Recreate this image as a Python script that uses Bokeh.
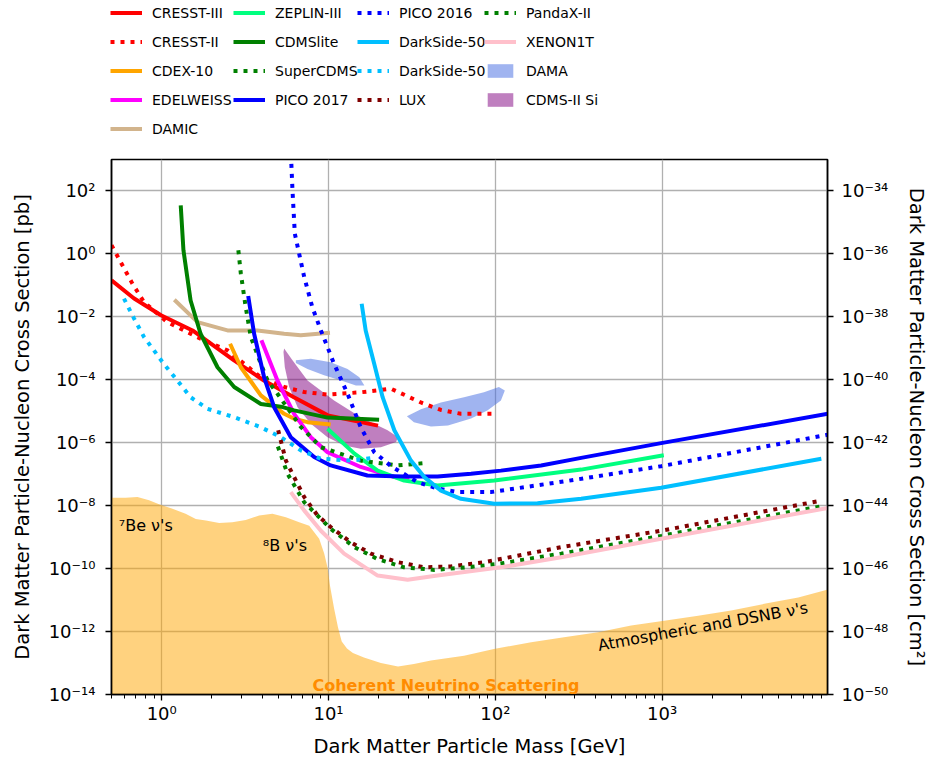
from bokeh.plotting import figure
from bokeh.layouts import column
from bokeh.models import (Range1d, LogScale, LogAxis, FixedTicker,
                          CustomJSTickFormatter, Legend, LegendItem, Label)
from bokeh.embed import file_html
from bokeh.resources import INLINE

# ---------------- data ----------------
# masses in GeV, cross sections in pb
cresst3_m = [0.50, 0.68, 0.99, 1.53, 2.70, 4.1, 6.2, 9.9, 19.8]
cresst3_s = [0.145, 0.039, 0.0112, 3.7e-3, 4.2e-4, 9.5e-5, 2.8e-5, 7.4e-6, 3.5e-6]

cresst2_m = [0.50, 0.667, 0.783, 1.08, 1.79, 2.48, 3.93, 5.42, 7.14, 9.86, 15.6, 23.7, 35.8, 47.2, 62.2, 98]
cresst2_s = [1.9, 0.114, 0.0295, 6.8e-3, 1.8e-3, 8.6e-4, 1.2e-4, 5.9e-5, 4.1e-5, 3.4e-5, 4.0e-5, 5.2e-5, 1.9e-5, 1.1e-5, 8.3e-6, 8.3e-6]

cdex_m = [2.57, 2.98, 3.93, 5.42, 6.22, 7.48, 10.3]
cdex_s = [1.4e-3, 2.5e-4, 3.2e-5, 8.3e-6, 5.8e-6, 4.5e-6, 3.8e-6]

edelweiss_m = [3.96, 4.94, 6.22, 7.83, 9.86, 15.6, 24.8, 30.5]
edelweiss_s = [1.8e-3, 9.5e-5, 8.3e-6, 1.5e-6, 5.0e-7, 1.7e-7, 8.1e-8, 7.2e-8]

damic_m = [1.19, 1.64, 2.48, 3.75, 5.42, 6.82, 10.2]
damic_s = [0.035, 6.8e-3, 3.7e-3, 3.7e-3, 2.9e-3, 2.6e-3, 3.1e-3]

zeplin_m = [9.86, 14.3, 19.7, 28.4, 45, 98.6, 327, 1023]
zeplin_s = [2.8e-6, 4.5e-7, 1.3e-7, 6.3e-8, 4.4e-8, 6.3e-8, 1.4e-7, 4.0e-7]

cdmslite_m = [1.30, 1.35, 1.49, 1.71, 2.16, 2.72, 3.93, 5.18, 6.22, 9.86, 20.1]
cdmslite_s = [35, 1.3, 0.033, 2.9e-3, 2.5e-4, 5.9e-5, 1.7e-5, 1.4e-5, 1.07e-5, 6.3e-6, 5.4e-6]

supercdms_m = [2.88, 2.98, 3.19, 3.42, 3.93, 4.31, 4.94, 6.82, 9.0, 10.3, 15.6, 26, 39.3]
supercdms_s = [1.3, 0.24, 0.020, 2.3e-3, 3.2e-4, 9.5e-5, 3.6e-5, 3.2e-6, 7.2e-7, 5.7e-7, 2.7e-7, 1.9e-7, 2.3e-7]

pico17_m = [3.30, 3.58, 4.11, 4.72, 5.94, 8.2, 10.3, 17.1, 28.3, 45, 71.5, 108, 188, 327, 986, 9860]
pico17_s = [0.046, 2.9e-3, 1.2e-4, 1.35e-5, 1.5e-6, 3.5e-7, 1.9e-7, 9.1e-8, 8.5e-8, 8.5e-8, 1.03e-7, 1.3e-7, 1.9e-7, 3.3e-7, 9.7e-7, 8.3e-6]

pico16_m = [5.95, 6.08, 6.28, 6.67, 7.14, 8.0, 9.0, 10.8, 13.0, 15.6, 18.8, 23.7, 34.2, 45, 59.4, 94, 298, 986, 9860]
pico16_s = [1500, 105, 4.4, 1.0, 0.19, 0.020, 3.7e-3, 3.2e-4, 3.6e-5, 3.1e-6, 5.0e-7, 1.8e-7, 5.6e-8, 3.5e-8, 2.7e-8, 2.7e-8, 6.6e-8, 1.8e-7, 1.8e-6]

darkside_m = [15.8, 16.7, 18.8, 21.1, 24.8, 31.2, 37.5, 47.2, 62.2, 98.6, 179, 327, 986, 9000]
darkside_s = [0.026, 3.7e-3, 3.2e-4, 2.8e-5, 2.5e-6, 2.7e-7, 8.1e-8, 3.0e-8, 1.65e-8, 1.15e-8, 1.2e-8, 1.65e-8, 3.7e-8, 3.1e-7]

darkside_lm_m = [0.594, 0.683, 0.783, 1.03, 1.24, 1.49, 1.88, 2.72, 3.93, 5.18, 6.82, 9.0, 13.6, 18.7]
darkside_lm_s = [0.038, 8.8e-3, 2.3e-3, 3.2e-4, 9.5e-5, 2.8e-5, 1.2e-5, 6.5e-6, 3.1e-6, 1.5e-6, 5.7e-7, 3.1e-7, 2.7e-7, 3.3e-7]

lux_m = [4.99, 5.55, 6.22, 7.14, 8.59, 10.3, 13.6, 17.9, 26, 37.5, 54.2, 86, 248, 986, 9000]
lux_s = [2.5e-6, 2.7e-7, 8.1e-8, 1.9e-8, 4.9e-9, 2.1e-9, 6.9e-10, 3.0e-10, 1.6e-10, 1.1e-10, 1.17e-10, 1.6e-10, 4.8e-10, 1.6e-9, 1.45e-8]

pandax_m = [4.97, 5.68, 7.14, 10.3, 14.3, 19.7, 28.4, 43, 68, 103, 248, 986, 9420]
pandax_s = [7.6e-7, 1.03e-7, 1.3e-8, 1.85e-9, 4.8e-10, 2.0e-10, 1.1e-10, 9.1e-11, 1.1e-10, 1.4e-10, 3.0e-10, 1.1e-9, 1.0e-8]

xenon_m = [5.94, 7.14, 9.0, 12.4, 19.7, 29.8, 45, 108, 248, 986, 9860]
xenon_s = [2.7e-8, 7.1e-9, 1.6e-9, 3.0e-10, 6.0e-11, 4.4e-11, 6.0e-11, 1.1e-10, 2.3e-10, 8.9e-10, 8.5e-9]

# DAMA allowed regions (two islands, outlines)
dama_low_m = [6.37, 7.83, 10.3, 13.0, 15.3, 16.4, 14.6, 11.9, 9.4, 7.48, 6.37]
dama_low_s = [4.2e-4, 4.7e-4, 3.6e-4, 2.2e-4, 1.2e-4, 6.6e-5, 6.6e-5, 9.5e-5, 1.4e-4, 2.2e-4, 3.4e-4]
dama_high_m = [29.5, 35.8, 47.2, 64.9, 85.5, 105, 114, 108, 90, 71.5, 52, 41.1, 32.5]
dama_high_s = [6.9e-6, 1.15e-5, 1.9e-5, 2.8e-5, 4.0e-5, 5.9e-5, 4.6e-5, 2.2e-5, 1.07e-5, 5.9e-6, 3.5e-6, 3.3e-6, 4.5e-6]

# CDMS-II Si allowed region (outline)
cdmssi_m = [5.42, 6.08, 7.48, 10.8, 15.6, 22.6, 26.1, 25.4, 20.6, 15.6, 12.4, 9.86, 7.83, 6.52, 5.81, 5.47, 5.37]
cdmssi_s = [9.8e-4, 4.2e-4, 9.5e-5, 2.2e-5, 6.5e-6, 2.5e-6, 1.5e-6, 1.05e-6, 7.2e-7, 6.4e-7, 8.2e-7, 1.5e-6, 4.0e-6, 1.35e-5, 5.9e-5, 2.5e-4, 7.6e-4]

# neutrino floor (upper edge)
floor_m = [0.50, 0.608, 0.715, 0.84, 0.964, 1.16, 1.39, 1.60, 1.84, 2.21, 2.65, 3.19, 3.84, 4.61,
           5.55, 6.67, 7.66, 8.79, 9.42, 9.86, 10.2, 10.8, 11.4, 12.0, 12.9, 14.0, 16.3, 20.6,
           26.1, 32.5, 41.1, 64.9, 98, 164, 258, 413, 652, 1028, 1644, 2594, 4093, 6546, 9900]
floor_s = [1.8e-8, 1.8e-8, 1.9e-8, 1.5e-8, 1.1e-8, 8.0e-9, 5.5e-9, 3.8e-9, 3.4e-9, 2.8e-9, 3.0e-9, 3.5e-9, 4.9e-9, 5.5e-9,
           4.3e-9, 3.0e-9, 2.3e-9, 8.9e-10, 3.0e-10, 1.1e-10, 2.9e-11, 5.4e-12, 1.35e-12, 4.8e-13, 2.9e-13, 2.1e-13, 1.5e-13, 1.0e-13,
           7.7e-14, 9.3e-14, 1.2e-13, 1.7e-13, 2.8e-13, 4.6e-13, 6.6e-13, 9.5e-13, 1.55e-12, 2.2e-12, 3.2e-12, 4.7e-12, 7.6e-12, 1.2e-11, 2.2e-11]

# axes
X_RANGE = (0.5, 9800.0)
Y_RANGE = (1e-14, 1e3)
PB_TO_CM2 = 1e-36
x_tick_exponents = [0, 1, 2, 3]
y_tick_exponents = [-14, -12, -10, -8, -6, -4, -2, 0, 2]
y2_tick_exponents = [-50, -48, -46, -44, -42, -40, -38, -36, -34]

# annotations: (text, mass, sigma)
be7_label = ("⁷Be ν's", 0.553, 2.3e-9)
b8_label = ("⁸B ν's", 4.04, 5.4e-10)
coherent_label = ("Coherent Neutrino Scattering", 50.6, 2.0e-14)
atmos_label = ("Atmospheric and DSNB ν's", 413, 3.6e-13)

FONT = "DejaVu Sans"
LW = 4
DOT = "4 6"

# ---------------- main figure ----------------
p = figure(frame_width=716, frame_height=535,
           x_axis_type="log", y_axis_type="log",
           x_range=Range1d(*X_RANGE), y_range=Range1d(*Y_RANGE),
           output_backend="svg", toolbar_location=None,
           min_border_left=111, min_border_right=103,
           min_border_top=19, min_border_bottom=66)
p.background_fill_color = "white"
p.border_fill_color = "white"
p.outline_line_color = "black"
p.outline_line_width = 1.5
p.outline_line_alpha = 1.0

SUP = """
const sup = {"-": "\u207b", "0": "\u2070", "1": "\u00b9", "2": "\u00b2", "3": "\u00b3",
             "4": "\u2074", "5": "\u2075", "6": "\u2076", "7": "\u2077", "8": "\u2078", "9": "\u2079"};
const e = Math.round(Math.log10(tick));
return "10" + String(e).split("").map((c) => sup[c]).join("");
"""

x_minor = [d * 10.0 ** k for k in range(-1, 4) for d in range(2, 10)
           if X_RANGE[0] <= d * 10.0 ** k <= X_RANGE[1]]
x_ticker = FixedTicker(ticks=[10.0 ** e for e in x_tick_exponents], minor_ticks=x_minor)
y_ticker = FixedTicker(ticks=[10.0 ** e for e in y_tick_exponents], minor_ticks=[])
y2_ticker = FixedTicker(ticks=[10.0 ** e for e in y2_tick_exponents], minor_ticks=[])

p.xaxis[0].ticker = x_ticker
p.yaxis[0].ticker = y_ticker
p.xgrid[0].ticker = x_ticker
p.ygrid[0].ticker = y_ticker
p.xaxis[0].formatter = CustomJSTickFormatter(code=SUP)
p.yaxis[0].formatter = CustomJSTickFormatter(code=SUP)
p.xaxis[0].axis_label = "Dark Matter Particle Mass [GeV]"
p.yaxis[0].axis_label = "Dark Matter Particle-Nucleon Cross Section [pb]"

p.extra_y_ranges = {"cm2": Range1d(Y_RANGE[0] * PB_TO_CM2, Y_RANGE[1] * PB_TO_CM2)}
p.extra_y_scales = {"cm2": LogScale()}
right_axis = LogAxis(y_range_name="cm2", ticker=y2_ticker,
                     formatter=CustomJSTickFormatter(code=SUP),
                     axis_label="Dark Matter Particle-Nucleon Cross Section [cm²]")
p.add_layout(right_axis, "right")

for ax in [p.xaxis[0], p.yaxis[0], right_axis]:
    ax.major_label_text_font = FONT
    ax.major_label_text_font_size = "18px"
    ax.major_label_text_color = "black"
    ax.axis_label_text_font = FONT
    ax.axis_label_text_font_size = "19.5px"
    ax.axis_label_text_font_style = "normal"
    ax.axis_label_text_color = "black"
    ax.axis_line_width = 1.5
    ax.axis_line_color = "black"
    ax.major_tick_in = 0
    ax.major_tick_out = 6
    ax.minor_tick_in = 0
    ax.minor_tick_out = 4
    ax.major_tick_line_width = 1.3
    ax.minor_tick_line_width = 1.0

p.xaxis[0].major_label_standoff = 2
p.xaxis[0].axis_label_standoff = 8
p.yaxis[0].major_label_standoff = 10
p.yaxis[0].axis_label_standoff = 12
right_axis.major_label_standoff = 8
right_axis.axis_label_standoff = 14

p.grid.grid_line_color = "#b0b0b0"
p.grid.grid_line_width = 1.3

# neutrino floor
p.varea(x=floor_m, y1=Y_RANGE[0], y2=floor_s, fill_color="orange", fill_alpha=0.5)

# allowed regions
DAMA_STYLE = dict(fill_color="royalblue", fill_alpha=0.5, line_color=None)
CDMSSI_STYLE = dict(fill_color="purple", fill_alpha=0.5, line_color=None)
p.patches(xs=[dama_low_m, dama_high_m], ys=[dama_low_s, dama_high_s], **DAMA_STYLE)
p.patch(cdmssi_m, cdmssi_s, **CDMSSI_STYLE)

# curves: (label, mass, sigma, colour, dash)
curves = [
    ("CRESST-III", cresst3_m, cresst3_s, "red", "solid"),
    ("CRESST-II", cresst2_m, cresst2_s, "red", DOT),
    ("CDEX-10", cdex_m, cdex_s, "orange", "solid"),
    ("EDELWEISS", edelweiss_m, edelweiss_s, "magenta", "solid"),
    ("DAMIC", damic_m, damic_s, "tan", "solid"),
    ("ZEPLIN-III", zeplin_m, zeplin_s, "springgreen", "solid"),
    ("CDMSlite", cdmslite_m, cdmslite_s, "green", "solid"),
    ("SuperCDMS", supercdms_m, supercdms_s, "green", DOT),
    ("PICO 2017", pico17_m, pico17_s, "blue", "solid"),
    ("PICO 2016", pico16_m, pico16_s, "blue", DOT),
    ("DarkSide-50", darkside_m, darkside_s, "deepskyblue", "solid"),
    ("DarkSide-50", darkside_lm_m, darkside_lm_s, "deepskyblue", DOT),
    ("LUX", lux_m, lux_s, "maroon", DOT),
    ("PandaX-II", pandax_m, pandax_s, "green", DOT),
    ("XENON1T", xenon_m, xenon_s, "pink", "solid"),
]
for lab, xs, ys, col, dash in curves:
    p.line(xs, ys, line_color=col, line_width=LW, line_dash=dash, line_cap="butt")

# annotations
for (txt, xm, ys), kw in [
        (be7_label, dict()),
        (b8_label, dict()),
        (coherent_label, dict(text_align="center", text_font_style="bold", text_color="darkorange")),
        (atmos_label, dict(angle=0.18)),
]:
    opts = dict(text_font=FONT, text_font_size="16px", text_baseline="alphabetic", text_color="black")
    opts.update(kw)
    p.add_layout(Label(x=xm, y=ys, text=txt, **opts))

# ---------------- legend strip above the plot ----------------
# The strip's ranges lie entirely below zero, so the (positive) series drawn
# into it stay out of view; they only carry each series' style into the legend.
LEG_H = 140
lf = figure(frame_width=930, frame_height=LEG_H, x_range=Range1d(-2, -1), y_range=Range1d(-2, -1),
            output_backend="svg", toolbar_location=None,
            x_axis_location=None, y_axis_location=None,
            min_border=0, outline_line_color=None)
lf.grid.visible = False

swatch = {}
for lab, xs, ys, col, dash in curves:
    swatch.setdefault(lab, []).append(
        lf.line(xs, ys, line_color=col, line_width=LW, line_dash=dash, line_cap="butt"))
swatch["DAMA"] = [lf.patches(xs=[dama_low_m, dama_high_m], ys=[dama_low_s, dama_high_s], **DAMA_STYLE)]
swatch["CDMS-II Si"] = [lf.patch(cdmssi_m, cdmssi_s, **CDMSSI_STYLE)]

legend_columns = [
    ["CRESST-III", "CRESST-II", "CDEX-10", "EDELWEISS", "DAMIC"],
    ["ZEPLIN-III", "CDMSlite", "SuperCDMS", "PICO 2017"],
    ["PICO 2016", ("DarkSide-50", 0), ("DarkSide-50", 1), "LUX"],
    ["PandaX-II", "XENON1T", "DAMA", "CDMS-II Si"],
]
col_x = [110, 233, 357, 484]
ROW_H = 17
ROW_GAP = 12
TOP = 4
for cx, names in zip(col_x, legend_columns):
    items = []
    for nm in names:
        if isinstance(nm, tuple):
            items.append(LegendItem(label=nm[0], renderers=[swatch[nm[0]][nm[1]]]))
        else:
            items.append(LegendItem(label=nm, renderers=[swatch[nm][0]]))
    n = len(items)
    h = n * ROW_H + (n - 1) * ROW_GAP
    leg = Legend(items=items, location=(cx, LEG_H - TOP - h),
                 orientation="vertical", padding=0, margin=0, spacing=ROW_GAP,
                 glyph_width=32, glyph_height=ROW_H, label_height=ROW_H,
                 label_standoff=10, label_text_font=FONT, label_text_font_size="14px",
                 label_text_color="black",
                 label_text_baseline="middle", border_line_color=None,
                 background_fill_alpha=0.0)
    lf.add_layout(leg, "center")

layout = column(lf, p, spacing=0)
open("out.html", "w").write(file_html(layout, INLINE))
